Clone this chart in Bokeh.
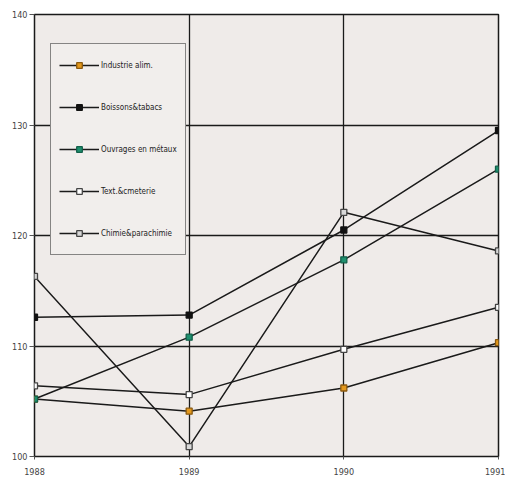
from bokeh.plotting import figure
from bokeh.models import Range1d, FixedTicker, Legend, LegendItem
from bokeh.embed import file_html
from bokeh.resources import INLINE

years = [1988, 1989, 1990, 1991]
industrie = [105.2, 104.1, 106.2, 110.3]
boissons = [112.6, 112.8, 120.5, 129.5]
ouvrages = [105.2, 110.8, 117.8, 126.0]
textile = [106.4, 105.6, 109.7, 113.5]
chimie = [116.3, 100.9, 122.1, 118.6]

names = ["Industrie alim.", "Boissons&tabacs", "Ouvrages en métaux",
         "Text.&cmeterie", "Chimie&parachimie"]
series = [industrie, boissons, ouvrages, textile, chimie]
fills = ["#e3981c", "#111111", "#1e8f6e", "#ffffff", "#d8d8d8"]
outlines = ["#8a5a10", "#111111", "#12604a", "#444444", "#444444"]

FONT = "DejaVu Sans Condensed"

p = figure(width=505, height=492, output_backend="svg", toolbar_location=None,
           x_range=Range1d(1988, 1991), y_range=Range1d(100, 140),
           min_border_left=34, min_border_right=7, min_border_top=14,
           min_border_bottom=36)
p.background_fill_color = "#efebe9"
p.border_fill_color = "#ffffff"
p.outline_line_color = "#1a1a1a"
p.outline_line_width = 1.5

p.xaxis.ticker = FixedTicker(ticks=years)
p.yaxis.ticker = FixedTicker(ticks=[100, 110, 120, 130, 140])
for ax in (p.xaxis[0], p.yaxis[0]):
    ax.axis_line_color = None
    ax.major_tick_line_color = "#555555"
    ax.minor_tick_line_color = None
    ax.major_label_text_font = FONT
    ax.major_label_text_font_size = "9px"
    ax.major_label_text_color = "#444444"
    ax.major_tick_in = 0
p.yaxis.major_tick_out = 5
p.yaxis.major_label_standoff = 2
p.xaxis.major_tick_out = 3
p.xaxis.major_label_standoff = 8

p.xgrid.grid_line_color = "#1a1a1a"
p.ygrid.grid_line_color = "#1a1a1a"
p.xgrid.grid_line_width = 1.3
p.ygrid.grid_line_width = 1.5

items = []
for name, ys, fc, lc in zip(names, series, fills, outlines):
    r1 = p.line(years, ys, line_color="#1a1a1a", line_width=1.5)
    r2 = p.scatter(years, ys, marker="square", size=6, fill_color=fc,
                   line_color=lc, line_width=1.3)
    items.append(LegendItem(label=name, renderers=[r1, r2]))

legend = Legend(items=items, location=(16, 201))
legend.glyph_width = 40
legend.glyph_height = 14
legend.label_height = 26
legend.spacing = 16
legend.padding = 8
legend.margin = 0
legend.label_standoff = 2
legend.label_text_font = FONT
legend.label_text_font_size = "8px"
legend.label_text_color = "#222222"
legend.border_line_color = "#1a1a1a"
legend.border_line_width = 1.5
legend.background_fill_color = "#f1eeec"
legend.background_fill_alpha = 1.0
p.add_layout(legend, "center")

open("out.html", "w").write(file_html(p, INLINE))
